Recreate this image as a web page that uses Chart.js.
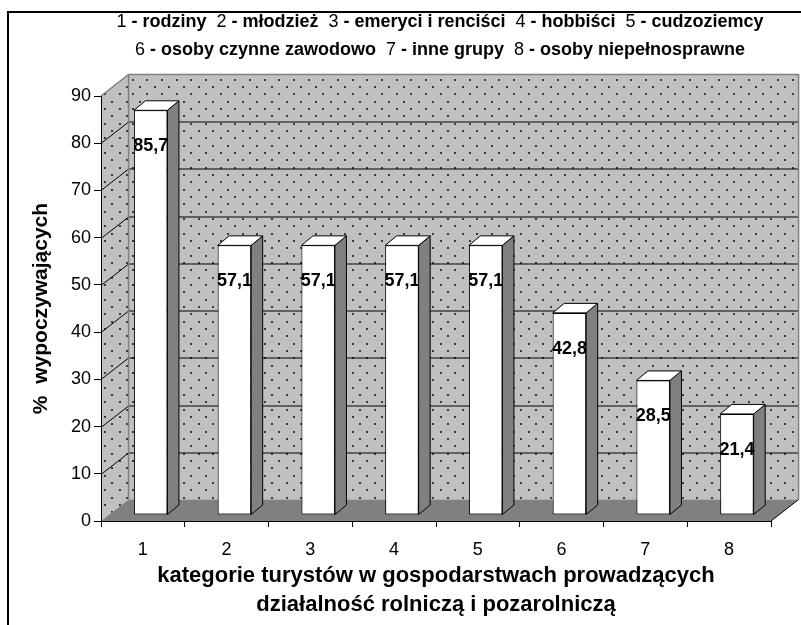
<!DOCTYPE html>
<html lang="pl">
<head>
<meta charset="utf-8">
<title>Kategorie turystów</title>
<script src="https://cdn.jsdelivr.net/npm/chart.js@4/dist/chart.umd.min.js"></script>
<style>
  body { margin: 0; background: #fff; }
  #wrap { position: relative; width: 801px; height: 625px; overflow: hidden; }
  #header {
    position: absolute; left: 0; top: 7px; width: 880px;
    text-align: center; white-space: pre; color: #000;
    font: 18px "Liberation Sans", Arial, sans-serif; line-height: 28px;
  }
</style>
</head>
<body>
<div id="wrap">
  <canvas id="chart" width="801" height="625"></canvas>
  <div id="header"></div>
</div>
<script>
// Data
const categories = ['1', '2', '3', '4', '5', '6', '7', '8'];
const shares = [85.7, 57.1, 57.1, 57.1, 57.1, 42.8, 28.5, 21.4];
const groupNames = ['rodziny', 'młodzież', 'emeryci i renciści', 'hobbiści', 'cudzoziemcy',
    'osoby czynne zawodowo', 'inne grupy', 'osoby niepełnosprawne'];
const headerRows = [[0, 1, 2, 3, 4], [5, 6, 7]];
const yMax = 90;
const yStep = 10;

const FONT = '"Liberation Sans", Arial, sans-serif';

// 3D look: offsets of back wall and of the bar faces
const wallDepth = { dx: 27.6, dy: -21.5 };
const barFront = { dx: 7.8, dy: -6 };
const barDepth = { dx: 11.5, dy: -9.5 };

// header with numbers in normal weight and names in bold
document.getElementById('header').innerHTML = headerRows.map(row =>
    row.map(i => `${categories[i]} <b>- ${groupNames[i]}</b>`).join('  ')
).join('\n');

function polygon(ctx, pts) {
    ctx.beginPath();
    ctx.moveTo(pts[0][0], pts[0][1]);
    for (let i = 1; i < pts.length; i++) ctx.lineTo(pts[i][0], pts[i][1]);
    ctx.closePath();
}

function dots(ctx, x0, y0, x1, y1) {
    const step = 14.67, half = step / 2;
    ctx.fillStyle = '#3a3a3a';
    let row = 0;
    for (let y = y0 + 4; y < y1; y += half, row++) {
        for (let x = x0 + 3 + (row % 2 ? half : 0); x < x1; x += step) {
            ctx.fillRect(Math.round(x), Math.round(y), 2, 2);
        }
    }
}

const wallsPlugin = {
    id: 'walls',
    beforeDraw(chart) {
        const { ctx, chartArea: a, scales: { y } } = chart;
        const top = y.getPixelForValue(yMax);
        const bot = y.getPixelForValue(0);
        const dx = wallDepth.dx, dy = wallDepth.dy;
        ctx.save();

        // outer frame
        ctx.fillStyle = '#000';
        ctx.fillRect(7, 11, 2, 620);
        ctx.fillRect(7, 11, 800, 2);

        // side wall
        const side = [[a.left, top], [a.left + dx, top + dy], [a.left + dx, bot + dy], [a.left, bot]];
        polygon(ctx, side);
        ctx.fillStyle = '#c0c0c0';
        ctx.fill();
        ctx.save();
        ctx.clip();
        dots(ctx, a.left, top + dy, a.left + dx, bot);
        ctx.restore();

        // back wall
        ctx.fillStyle = '#c0c0c0';
        ctx.fillRect(a.left + dx, top + dy, a.right - a.left, bot - top);
        ctx.save();
        ctx.beginPath();
        ctx.rect(a.left + dx, top + dy, a.right - a.left, bot - top);
        ctx.clip();
        dots(ctx, a.left + dx, top + dy, a.right + dx, bot + dy);
        ctx.restore();

        // grid lines
        ctx.lineWidth = 1;
        for (let v = yStep; v < yMax; v += yStep) {
            const py = Math.round(y.getPixelForValue(v)) + 0.5;
            ctx.strokeStyle = '#000';
            ctx.beginPath();
            ctx.moveTo(a.left, py);
            ctx.lineTo(a.left + dx, py + dy);
            ctx.lineTo(a.right + dx, py + dy);
            ctx.stroke();
        }

        // top edges of the walls
        ctx.strokeStyle = '#808080';
        ctx.lineWidth = 1.5;
        ctx.beginPath();
        ctx.moveTo(a.left, top);
        ctx.lineTo(a.left + dx, top + dy);
        ctx.lineTo(a.right + dx, top + dy);
        ctx.lineTo(a.right + dx, bot + dy);
        ctx.moveTo(a.left + dx, top + dy);
        ctx.lineTo(a.left + dx, bot + dy);
        ctx.stroke();

        // floor
        polygon(ctx, [[a.left, bot], [a.right, bot], [a.right + dx, bot + dy], [a.left + dx, bot + dy]]);
        ctx.fillStyle = '#808080';
        ctx.fill();
        ctx.strokeStyle = '#000';
        ctx.lineWidth = 1;
        ctx.beginPath();
        ctx.moveTo(a.right, bot);
        ctx.lineTo(a.right + dx, bot + dy);
        ctx.stroke();

        ctx.restore();
    }
};

const barsPlugin = {
    id: 'bars3d',
    beforeDatasetsDraw(chart) {
        chart.ctx.save();
        chart.ctx.translate(barFront.dx, barFront.dy);
    },
    afterDatasetsDraw(chart) {
        const ctx = chart.ctx;
        ctx.restore();
        ctx.save();
        ctx.lineWidth = 1;
        ctx.strokeStyle = '#000';
        chart.getDatasetMeta(0).data.forEach((bar, i) => {
            const l = bar.x - bar.width / 2 + barFront.dx;
            const r = bar.x + bar.width / 2 + barFront.dx;
            const t = bar.y + barFront.dy;
            const b = bar.base + barFront.dy;
            const dx = barDepth.dx, dy = barDepth.dy;

            // right side
            polygon(ctx, [[r, t], [r + dx, t + dy], [r + dx, b + dy], [r, b]]);
            ctx.fillStyle = '#808080';
            ctx.fill();
            ctx.stroke();
            // top
            polygon(ctx, [[l, t], [l + dx, t + dy], [r + dx, t + dy], [r, t]]);
            ctx.fillStyle = '#fff';
            ctx.fill();
            ctx.stroke();

            // value label
            ctx.fillStyle = '#000';
            ctx.font = 'bold 18px ' + FONT;
            ctx.textAlign = 'center';
            ctx.textBaseline = 'middle';
            ctx.fillText(String(shares[i]).replace('.', ','), (l + r) / 2, t + 36);
        });
        ctx.restore();
    }
};

new Chart(document.getElementById('chart'), {
    type: 'bar',
    data: {
        labels: categories,
        datasets: [{
            data: shares,
            backgroundColor: '#ffffff',
            borderColor: '#000000',
            borderWidth: 1,
            borderSkipped: false,
            barPercentage: 0.4,
            categoryPercentage: 1
        }]
    },
    options: {
        responsive: false,
        animation: false,
        devicePixelRatio: 1,
        layout: { padding: { left: 8, right: 30, top: 96, bottom: 0 } },
        plugins: {
            legend: { display: false },
            tooltip: { enabled: false }
        },
        scales: {
            x: {
                afterFit(scale) { scale.height = 104; },
                grid: { offset: true, drawOnChartArea: false, tickLength: 6, color: '#000' },
                border: { color: '#000' },
                ticks: { color: '#000', padding: 12, font: { family: FONT, size: 18 } },
                title: {
                    display: true,
                    text: ['kategorie turystów w gospodarstwach prowadzących', 'działalność rolniczą i pozarolniczą'],
                    color: '#000',
                    font: { family: FONT, size: 22, weight: 'bold', lineHeight: '29px' },
                    padding: { top: 4, bottom: 6 }
                }
            },
            y: {
                min: 0,
                max: yMax,
                afterFit(scale) { scale.width = 93; },
                grid: { drawOnChartArea: false, tickLength: 7, color: '#000' },
                border: { color: '#000' },
                ticks: { stepSize: yStep, color: '#000', padding: 3, font: { family: FONT, size: 18 } },
                title: {
                    display: true,
                    text: '%  wypoczywających',
                    color: '#000',
                    font: { family: FONT, size: 21, weight: 'bold' },
                    padding: { top: 21, bottom: 0 }
                }
            }
        }
    },
    plugins: [wallsPlugin, barsPlugin]
});
</script>
</body>
</html>
